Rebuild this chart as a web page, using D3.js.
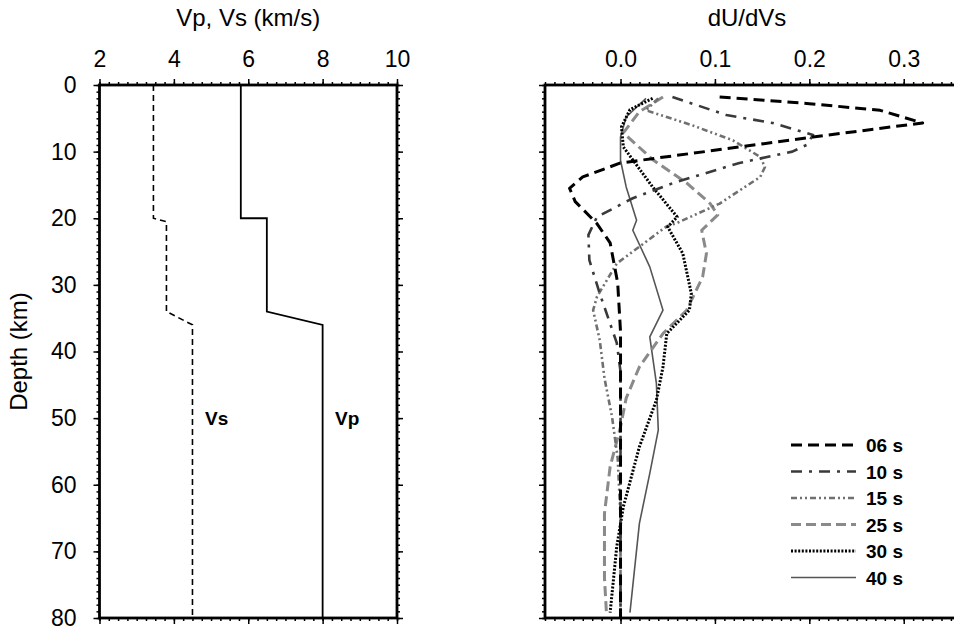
<!DOCTYPE html>
<html>
<head>
<meta charset="utf-8">
<script src="https://cdn.jsdelivr.net/npm/d3@7"></script>
<style>
    body { margin: 0; background: #fff; }
    text { font-family: "Liberation Sans", Arial, Helvetica, sans-serif; }
</style>
</head>
<body>
<svg></svg>
<script>

//==========================================================================
// Data.

// Velocity model: [velocity (km/s), depth (km)]
var vsModel = [[3.45, 0], [3.45, 20], [3.8, 20.5], [3.8, 34], [4.5, 36], [4.5, 80]];
var vpModel = [[5.8, 0], [5.8, 20], [6.5, 20], [6.5, 34], [8.0, 36], [8.0, 80]];

// Sensitivity kernels dU/dVs: [value, depth (km)]
var k06 = [[0.105, 1.8], [0.2, 2.8], [0.275, 3.8], [0.32, 5.7], [0.204, 7.8], [0.126, 9.3],
    [0.0, 11.7], [-0.04, 13.8], [-0.054, 15.5], [-0.048, 17.5], [-0.025, 20.8], [-0.011, 23.7],
    [-0.003, 29.7], [0.0, 37], [0.0, 50], [0.0, 80]];
var k10 = [[0.055, 1.8], [0.112, 4.5], [0.161, 5.7], [0.204, 7.5], [0.197, 9], [0.182, 10],
    [0.126, 11.7], [0.056, 14.7], [0.013, 17], [-0.025, 19.8], [-0.034, 22.5], [-0.033, 26.3],
    [-0.022, 31.3], [-0.004, 38.7], [0.0, 43], [0.0, 80]];
var k15 = [[0.04, 2], [0.027, 3.8], [0.075, 6], [0.119, 8.3], [0.148, 10.8], [0.153, 12.3],
    [0.148, 13.8], [0.105, 17.8], [0.06, 20.7], [0.049, 21.2], [-0.004, 26.8], [-0.025, 31.8],
    [-0.029, 33.8], [-0.022, 38.3], [-0.017, 44], [-0.009, 49.8], [-0.003, 56], [0.0, 65], [0.0, 80]];
var k25 = [[0.045, 1.8], [0.02, 4], [0.003, 7.2], [0.035, 11.3], [0.07, 14.7], [0.095, 17.8],
    [0.103, 19.5], [0.086, 21.8], [0.091, 25.3], [0.087, 28.8], [0.07, 33.8], [0.045, 37.3],
    [0.02, 42.3], [0.006, 47], [0.0, 51.3], [-0.011, 57.3], [-0.017, 64.3], [-0.017, 74], [-0.015, 79]];
var k30 = [[0.034, 2], [0.01, 3.7], [0.001, 6.3], [0.003, 9.3], [0.034, 15.3], [0.06, 19.8],
    [0.05, 21.3], [0.066, 25.3], [0.075, 31.3], [0.073, 33.8], [0.049, 37.3], [0.045, 42.3],
    [0.038, 47.3], [0.02, 54.3], [0.003, 63.3], [-0.004, 69.3], [-0.011, 79.2]];
var k40 = [[0.027, 2], [0.006, 4.8], [0.0, 7.8], [0.0, 11.3], [0.006, 15.3], [0.017, 20.3],
    [0.013, 21.8], [0.031, 27.3], [0.045, 33.8], [0.031, 37.8], [0.038, 44.8], [0.04, 51.8],
    [0.031, 58.3], [0.02, 65.8], [0.01, 79.2]];

var periods = ['06 s', '10 s', '15 s', '25 s', '30 s', '40 s'];
var kernels = [k06, k10, k15, k25, k30, k40];

// Line styles for each period.
var styles = [
    { color: '#000', width: 3, dash: '11,6' },
    { color: '#3a3a3a', width: 2.6, dash: '11,7,3,7' },
    { color: '#707070', width: 2.6, dash: '6,3,2,3,2,3' },
    { color: '#8a8a8a', width: 3, dash: '10,5' },
    { color: '#000', width: 3, dash: '2,1.6' },
    { color: '#555', width: 1.6, dash: null }
];


//==========================================================================
// Layout.

var width = 954;
var height = 631;

var svg = d3.select('svg')
    .attr('width', width)
    .attr('height', height)
;

var plotTop = 85;
var plotBottom = 618;

var yScale = d3.scaleLinear()
    .domain([0, 80])
    .range([plotTop, plotBottom])
;

var xLeft = d3.scaleLinear()
    .domain([2, 10])
    .range([99.5, 397])
;

var xRight = d3.scaleLinear()
    .domain([-0.08, 0.36])
    .range([545, 545 + 0.44 * 944])
;

function ticksBetween(lo, hi, step) {
    var out = [];
    var n = Math.round((hi - lo) / step);
    for (var i = 0; i <= n; i++) {
        out.push(+(lo + i * step).toFixed(4));
    }
    return out;
}

function styleAxis(g) {
    g.select('.domain').remove();
    g.selectAll('.tick line').attr('stroke', '#000').attr('stroke-width', 1.5);
    g.selectAll('.tick text')
        .attr('fill', '#000')
        .style('font-size', '23px')
        .style('font-family', '"Liberation Sans", Arial, sans-serif')
    ;
}

function drawAxis(axis, tx, ty) {
    var g = svg.append('g')
        .attr('transform', 'translate(' + tx + ',' + ty + ')')
        .call(axis)
    ;
    styleAxis(g);
    return g;
}


//==========================================================================
// Left panel: velocity model.

var leftX0 = xLeft.range()[0];
var leftX1 = xLeft.range()[1];

var line = d3.line()
    .x(function(d) { return xLeft(d[0]); })
    .y(function(d) { return yScale(d[1]); })
;

svg.append('path')
    .datum(vsModel)
    .attr('d', line)
    .attr('fill', 'none')
    .attr('stroke', '#000')
    .attr('stroke-width', 1.6)
    .attr('stroke-dasharray', '6,4')
;

svg.append('path')
    .datum(vpModel)
    .attr('d', line)
    .attr('fill', 'none')
    .attr('stroke', '#000')
    .attr('stroke-width', 1.8)
;

svg.append('text')
    .attr('x', 205)
    .attr('y', yScale(50) + 7)
    .style('font-size', '19px')
    .style('font-weight', 'bold')
    .text('Vs')
;

svg.append('text')
    .attr('x', 335)
    .attr('y', yScale(50) + 7)
    .style('font-size', '19px')
    .style('font-weight', 'bold')
    .text('Vp')
;

// Axes of the left panel.
drawAxis(d3.axisTop(xLeft).tickValues([2, 4, 6, 8, 10]).tickSize(6).tickPadding(12)
    .tickFormat(d3.format('d')), 0, plotTop);
drawAxis(d3.axisTop(xLeft).tickValues(ticksBetween(2, 10, 0.25)).tickSize(3).tickFormat(''), 0, plotTop);
drawAxis(d3.axisBottom(xLeft).tickValues([2, 4, 6, 8, 10]).tickSize(6).tickFormat(''), 0, plotBottom);
drawAxis(d3.axisBottom(xLeft).tickValues(ticksBetween(2, 10, 0.25)).tickSize(3).tickFormat(''), 0, plotBottom);
drawAxis(d3.axisLeft(yScale).tickValues(d3.range(0, 81, 10)).tickSize(6).tickPadding(17)
    .tickFormat(d3.format('d')), leftX0, 0);
drawAxis(d3.axisLeft(yScale).tickValues(d3.range(0, 81, 1)).tickSize(3).tickFormat(''), leftX0, 0);
drawAxis(d3.axisRight(yScale).tickValues(d3.range(0, 81, 10)).tickSize(6).tickFormat(''), leftX1, 0);
drawAxis(d3.axisRight(yScale).tickValues(d3.range(0, 81, 1)).tickSize(3).tickFormat(''), leftX1, 0);

svg.append('rect')
    .attr('x', leftX0)
    .attr('y', plotTop)
    .attr('width', leftX1 - leftX0)
    .attr('height', plotBottom - plotTop)
    .attr('fill', 'none')
    .attr('stroke', '#000')
    .attr('stroke-width', 2.8)
;

svg.append('text')
    .attr('x', (leftX0 + leftX1) / 2)
    .attr('y', 26)
    .attr('text-anchor', 'middle')
    .style('font-size', '24px')
    .text('Vp, Vs (km/s)')
;

svg.append('text')
    .attr('transform', 'translate(27,' + ((plotTop + plotBottom) / 2) + ') rotate(-90)')
    .attr('text-anchor', 'middle')
    .style('font-size', '24px')
    .text('Depth (km)')
;


//==========================================================================
// Right panel: sensitivity kernels.

var rightX0 = xRight.range()[0];
var rightX1 = xRight.range()[1];

var kLine = d3.line()
    .x(function(d) { return xRight(d[0]); })
    .y(function(d) { return yScale(d[1]); })
;

// Draw the lightest curves first so the dark ones sit on top.
var drawOrder = [5, 3, 2, 4, 1, 0];
drawOrder.forEach(function(i) {
    svg.append('path')
        .datum(kernels[i])
        .attr('d', kLine)
        .attr('fill', 'none')
        .attr('stroke', styles[i].color)
        .attr('stroke-width', styles[i].width)
        .attr('stroke-dasharray', styles[i].dash)
        .attr('stroke-linejoin', 'round')
    ;
});

drawAxis(d3.axisTop(xRight).tickValues([0, 0.1, 0.2, 0.3]).tickSize(6).tickPadding(12)
    .tickFormat(d3.format('.1f')), 0, plotTop);
drawAxis(d3.axisTop(xRight).tickValues(ticksBetween(-0.08, 0.36, 0.01)).tickSize(3).tickFormat(''), 0, plotTop);
drawAxis(d3.axisBottom(xRight).tickValues([0, 0.1, 0.2, 0.3]).tickSize(6).tickFormat(''), 0, plotBottom);
drawAxis(d3.axisBottom(xRight).tickValues(ticksBetween(-0.08, 0.36, 0.01)).tickSize(3).tickFormat(''), 0, plotBottom);
drawAxis(d3.axisLeft(yScale).tickValues(d3.range(0, 81, 10)).tickSize(6).tickFormat(''), rightX0, 0);
drawAxis(d3.axisLeft(yScale).tickValues(d3.range(0, 81, 1)).tickSize(3).tickFormat(''), rightX0, 0);

svg.append('rect')
    .attr('x', rightX0)
    .attr('y', plotTop)
    .attr('width', rightX1 - rightX0)
    .attr('height', plotBottom - plotTop)
    .attr('fill', 'none')
    .attr('stroke', '#000')
    .attr('stroke-width', 2.8)
;

svg.append('text')
    .attr('x', 747)
    .attr('y', 26)
    .attr('text-anchor', 'middle')
    .style('font-size', '24px')
    .text('dU/dVs')
;

// Legend.
var legend = svg.append('g')
    .attr('transform', 'translate(791,445)')
;

var legendRows = legend.selectAll('.legend-row')
    .data(periods)
    .enter()
    .append('g')
    .classed('legend-row', true)
    .attr('transform', function(d, i) {
        return 'translate(0,' + (i * 26.5) + ')';
    })
;

legendRows.append('line')
    .attr('x1', 0)
    .attr('x2', 65)
    .attr('stroke', function(d, i) { return styles[i].color; })
    .attr('stroke-width', function(d, i) { return styles[i].width; })
    .attr('stroke-dasharray', function(d, i) { return styles[i].dash; })
;

legendRows.append('text')
    .attr('x', 75)
    .attr('y', 7)
    .style('font-size', '19px')
    .style('font-weight', 'bold')
    .text(function(d) { return d; })
;

</script>
</body>
</html>
